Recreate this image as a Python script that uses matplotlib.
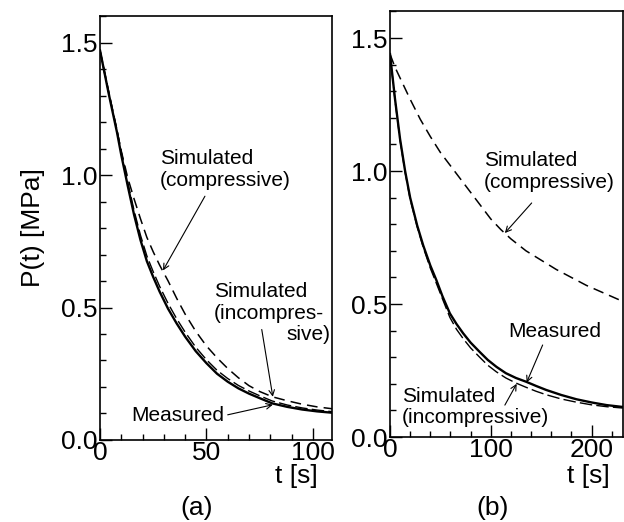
import matplotlib
matplotlib.use("Agg")
import matplotlib.pyplot as plt
from matplotlib.ticker import MultipleLocator

plt.rcParams['font.family'] = ['Liberation Sans', 'DejaVu Sans']

# panel (a) data
ta = [0, 2, 4, 6, 8, 10, 13, 16, 19, 22, 25, 28, 32, 36, 40, 45, 50, 55, 60, 65, 70,
      75, 81, 88, 95, 102, 109]
pa_meas = [1.47, 1.39, 1.31, 1.235, 1.16, 1.075, 0.96, 0.85, 0.755, 0.675, 0.615, 0.56,
           0.495, 0.44, 0.39, 0.335, 0.29, 0.25, 0.22, 0.195, 0.175, 0.158, 0.138,
           0.125, 0.115, 0.108, 0.103]
pa_incomp = [1.47, 1.395, 1.318, 1.243, 1.17, 1.087, 0.974, 0.866, 0.773, 0.695, 0.635,
             0.58, 0.515, 0.458, 0.407, 0.35, 0.303, 0.263, 0.232, 0.206, 0.185, 0.167,
             0.147, 0.132, 0.121, 0.113, 0.107]
pa_comp = [1.47, 1.39, 1.315, 1.24, 1.165, 1.09, 0.99, 0.91, 0.835, 0.765, 0.71, 0.66,
           0.60, 0.535, 0.475, 0.41, 0.355, 0.31, 0.27, 0.235, 0.205, 0.183, 0.163,
           0.148, 0.135, 0.125, 0.118]

# panel (b) data
tb = [0, 5, 10, 15, 20, 27, 33, 40, 46, 52, 59.4, 66, 72.6, 80, 89, 97, 105.6, 115, 125,
      135, 145, 155, 170, 185, 200, 215, 231]
pb_meas = [1.44, 1.27, 1.12, 1.00, 0.90, 0.795, 0.72, 0.645, 0.59, 0.53, 0.465, 0.425,
           0.39, 0.355, 0.32, 0.29, 0.264, 0.24, 0.222, 0.208, 0.192, 0.177, 0.158,
           0.142, 0.13, 0.12, 0.113]
pb_incomp = [1.44, 1.265, 1.115, 0.995, 0.895, 0.79, 0.713, 0.635, 0.578, 0.52, 0.45,
             0.405, 0.37, 0.335, 0.30, 0.27, 0.245, 0.222, 0.203, 0.187, 0.172, 0.159,
             0.143, 0.131, 0.121, 0.114, 0.109]
tb_comp = [0, 5, 10, 15, 20, 30, 40, 50, 60, 70, 80, 90, 100, 110, 120, 135, 150, 165,
           180, 195, 210, 231]
pb_comp = [1.44, 1.39, 1.35, 1.31, 1.27, 1.195, 1.13, 1.07, 1.02, 0.97, 0.92, 0.87,
           0.82, 0.78, 0.745, 0.70, 0.665, 0.63, 0.60, 0.57, 0.545, 0.51]

fig = plt.figure(figsize=(6.24, 5.22), dpi=100)
axa = fig.add_axes([0.1603, 0.1571, 0.3717, 0.8122])
axb = fig.add_axes([0.625, 0.1628, 0.373, 0.8152])

dash = (0, (7, 4))


def style(ax, xmax, xmajor, xminor):
    ax.set_xlim(0, xmax)
    ax.set_ylim(0, 1.6)
    ax.xaxis.set_major_locator(MultipleLocator(xmajor))
    ax.xaxis.set_minor_locator(MultipleLocator(xminor))
    ax.yaxis.set_major_locator(MultipleLocator(0.5))
    ax.yaxis.set_minor_locator(MultipleLocator(0.1))
    ax.yaxis.set_major_formatter(plt.FormatStrFormatter('%.1f'))
    ax.tick_params(which='both', direction='in', labelsize=19, width=1.0)
    ax.tick_params(which='major', length=8.5, pad=2)
    ax.tick_params(which='minor', length=4.5)
    ax.tick_params(axis='x', pad=1)
    for s in ax.spines.values():
        s.set_linewidth(1.2)


ap = dict(arrowstyle='->', color='black', lw=0.8, shrinkA=0, shrinkB=0)

# (a)
axa.plot(ta, pa_meas, color='black', lw=1.7)
axa.plot(ta, pa_incomp, color='black', lw=1.0, linestyle=(0, (9, 3)))
axa.plot(ta, pa_comp, color='black', lw=1.1, linestyle=dash)
style(axa, 109, 50, 10)
axa.set_ylabel('P(t) [MPa]', fontsize=19, labelpad=11)

axa.text(28.2, 1.02, 'Simulated\n(compressive)', fontsize=15, ha='left', va='center',
         linespacing=1.2)
axa.annotate('', xy=(29.6, 0.64), xytext=(49.3, 0.92), arrowprops=ap)
axa.text(53.5, 0.52, 'Simulated\n(incompres-', fontsize=15, ha='left', va='center',
         linespacing=1.2)
axa.text(108.5, 0.40, 'sive)', fontsize=15, ha='right', va='center')
axa.annotate('', xy=(81.2, 0.163), xytext=(76, 0.417), arrowprops=ap)
axa.text(14.8, 0.092, 'Measured', fontsize=15, ha='left', va='center')
axa.annotate('', xy=(81.2, 0.133), xytext=(60, 0.095), arrowprops=ap)

# (b)
axb.plot(tb, pb_meas, color='black', lw=1.7)
axb.plot(tb, pb_incomp, color='black', lw=1.0, linestyle=(0, (9, 3)))
axb.plot(tb_comp, pb_comp, color='black', lw=1.1, linestyle=dash)
style(axb, 231, 100, 20)

axb.text(93, 1.0, 'Simulated\n(compressive)', fontsize=15, ha='left', va='center',
         linespacing=1.2)
axb.annotate('', xy=(114, 0.767), xytext=(140.6, 0.88), arrowprops=ap)
axb.text(117, 0.395, 'Measured', fontsize=15, ha='left', va='center')
axb.annotate('', xy=(135.6, 0.205), xytext=(151.5, 0.346), arrowprops=ap)
axb.text(12, 0.113, 'Simulated\n(incompressive)', fontsize=15, ha='left', va='center',
         linespacing=1.15)
axb.annotate('', xy=(125.7, 0.2), xytext=(114, 0.12), arrowprops=ap)

# axis titles under the tick labels
fig.text(318 / 624, 1 - 476 / 522, 't [s]', fontsize=19, ha='right', va='center')
fig.text(610 / 624, 1 - 476 / 522, 't [s]', fontsize=19, ha='right', va='center')
fig.text(197 / 624, 1 - 508 / 522, '(a)', fontsize=19, ha='center', va='center')
fig.text(493 / 624, 1 - 508 / 522, '(b)', fontsize=19, ha='center', va='center')

fig.savefig('out.png', dpi=100)
